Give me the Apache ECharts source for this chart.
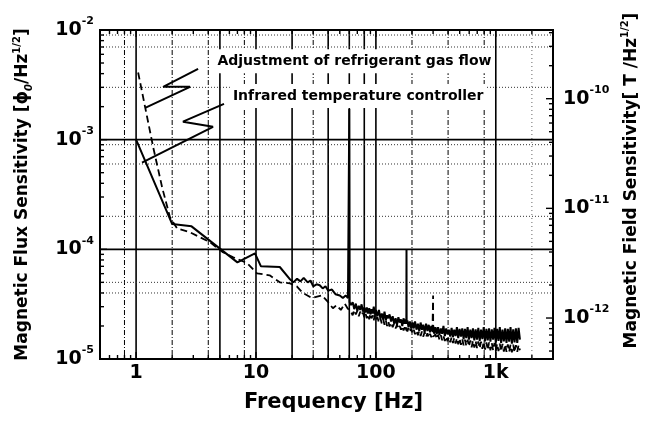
<!DOCTYPE html>
<html>
<head>
<meta charset="utf-8">
<script src="https://cdn.jsdelivr.net/npm/echarts@6.0.0/dist/echarts.min.js"></script>
<style>
html, body { margin: 0; padding: 0; background: #fff; }
#chart { width: 647px; height: 423px; }
</style>
</head>
<body>
<div id="chart"></div>
<script>
// flux noise spectra, frequency [Hz] / sensitivity [Phi0/Hz^1/2]
// below the 60 Hz line each trace has its own points
var infraredLowFreq = [1, 2.0, 2.9, 7.0, 9.8, 11, 15.8, 19, 20.5, 22, 23.5, 25, 27, 28.5, 30, 32, 34, 36, 38, 40, 43, 46, 50, 53, 56, 58.5, 59.6, 60, 60.4];
var infraredLowFlux = [1.0e-3, 1.7e-4, 1.62e-4, 7.6e-5, 9.2e-5, 7.0e-5, 6.9e-5, 5.4e-5, 5.0e-5, 5.4e-5, 5.1e-5, 5.5e-5, 5.0e-5, 5.2e-5, 4.6e-5, 4.8e-5, 4.7e-5, 4.4e-5, 4.6e-5, 4.2e-5, 4.3e-5, 3.9e-5, 3.8e-5, 3.6e-5, 3.8e-5, 3.6e-5, 3.5e-5, 1.9e-3, 3.3e-5];

var gasLowFreq = [1.04, 1.39, 1.65, 1.92, 2.2, 2.82, 4.14, 5.3, 6.4, 8.4, 10.2, 13, 15.8, 19.2, 21.9, 24.6, 29.2, 35.5, 40, 43.8, 47, 51, 55, 58, 60];
var gasLowFlux = [4.1e-3, 8.5e-4, 3.66e-4, 1.95e-4, 1.55e-4, 1.43e-4, 1.16e-4, 9.4e-5, 8.5e-5, 7.5e-5, 6.05e-5, 5.8e-5, 5.0e-5, 4.9e-5, 4.6e-5, 4.0e-5, 3.6e-5, 3.8e-5, 3.3e-5, 2.9e-5, 3.1e-5, 2.8e-5, 3.2e-5, 2.9e-5, 2.8e-5];

// noisy part above 60 Hz, shared frequency points
var noiseFreq = [
    62, 64, 66, 68, 70, 72, 74, 76, 78, 80,
    82, 84, 86, 88, 90, 92, 94, 96, 98, 100,
    103, 106, 109, 112, 115, 118, 121, 124, 127, 130,
    134, 138, 142, 146, 150, 154, 158, 162, 166, 170,
    174, 177, 179.5, 180, 180.5, 183, 187, 192, 197, 202,
    207, 212, 218, 224, 230, 236, 242, 248, 255, 262,
    269, 276, 283, 290, 296, 299.5, 300, 300.5, 306, 314,
    322, 330, 339, 348, 357, 366, 376, 386, 396, 406,
    417, 428, 439, 450, 462, 474, 486, 499, 512, 525,
    539, 553, 567, 582, 597, 613, 629, 645, 662, 679,
    697, 715, 734, 753, 773, 793, 814, 835, 857, 879,
    902, 926, 950, 975, 1000, 1026, 1053, 1080, 1108, 1137,
    1167, 1197, 1228, 1260, 1293, 1327, 1362, 1397, 1434, 1471,
    1510, 1549, 1590];
var infraredNoise = [
    3.1e-5, 3.3e-5, 2.85e-5, 3.2e-5, 2.75e-5, 3.05e-5, 2.8e-5, 3.15e-5, 2.7e-5, 2.95e-5,
    2.65e-5, 2.95e-5, 2.6e-5, 2.9e-5, 2.55e-5, 2.85e-5, 2.6e-5, 3.0e-5, 2.55e-5, 2.8e-5,
    2.45e-5, 2.8e-5, 2.35e-5, 2.6e-5, 2.3e-5, 2.7e-5, 2.25e-5, 2.5e-5, 2.35e-5, 2.55e-5,
    2.2e-5, 2.45e-5, 2.1e-5, 2.35e-5, 2.05e-5, 2.4e-5, 2.15e-5, 2.3e-5, 2.0e-5, 2.35e-5,
    2.1e-5, 2.3e-5, 2.2e-5, 1.0e-4, 2.1e-5, 2.25e-5, 1.95e-5, 2.2e-5, 1.9e-5, 2.15e-5,
    1.9e-5, 2.2e-5, 1.85e-5, 2.1e-5, 1.8e-5, 2.15e-5, 1.85e-5, 2.05e-5, 1.75e-5, 2.1e-5,
    1.8e-5, 2.05e-5, 1.75e-5, 2.0e-5, 1.8e-5, 1.95e-5, 1.75e-5, 2.0e-5, 1.7e-5, 1.95e-5,
    1.7e-5, 1.95e-5, 1.65e-5, 1.9e-5, 1.7e-5, 2.0e-5, 1.62e-5, 1.9e-5, 1.68e-5, 1.85e-5,
    1.6e-5, 1.92e-5, 1.58e-5, 1.85e-5, 1.62e-5, 1.95e-5, 1.55e-5, 1.88e-5, 1.6e-5, 1.9e-5,
    1.52e-5, 1.88e-5, 1.55e-5, 1.95e-5, 1.5e-5, 1.85e-5, 1.55e-5, 1.9e-5, 1.48e-5, 1.86e-5,
    1.5e-5, 1.92e-5, 1.46e-5, 1.85e-5, 1.52e-5, 1.95e-5, 1.45e-5, 1.88e-5, 1.48e-5, 1.9e-5,
    1.44e-5, 1.86e-5, 1.5e-5, 1.92e-5, 1.42e-5, 1.88e-5, 1.46e-5, 1.95e-5, 1.4e-5, 1.85e-5,
    1.45e-5, 1.9e-5, 1.4e-5, 1.88e-5, 1.44e-5, 1.95e-5, 1.38e-5, 1.86e-5, 1.42e-5, 1.9e-5,
    1.4e-5, 1.92e-5, 1.5e-5];
var gasNoise = [
    2.7e-5, 2.5e-5, 2.8e-5, 2.55e-5, 2.75e-5, 2.45e-5, 2.7e-5, 2.5e-5, 2.65e-5, 2.4e-5,
    2.6e-5, 2.35e-5, 2.55e-5, 2.3e-5, 2.6e-5, 2.35e-5, 2.5e-5, 2.25e-5, 2.55e-5, 2.3e-5,
    2.4e-5, 2.15e-5, 2.35e-5, 2.1e-5, 2.3e-5, 2.05e-5, 2.25e-5, 2.0e-5, 2.2e-5, 1.98e-5,
    2.15e-5, 1.95e-5, 2.1e-5, 1.9e-5, 2.05e-5, 1.88e-5, 2.0e-5, 1.85e-5, 2.0e-5, 1.82e-5,
    1.95e-5, 1.8e-5, 1.95e-5, 1.8e-5, 1.9e-5, 1.78e-5, 1.92e-5, 1.75e-5, 1.9e-5, 1.72e-5,
    1.85e-5, 1.68e-5, 1.82e-5, 1.65e-5, 1.8e-5, 1.62e-5, 1.78e-5, 1.6e-5, 1.75e-5, 1.58e-5,
    1.72e-5, 1.56e-5, 1.7e-5, 1.58e-5, 1.68e-5, 1.65e-5, 3.8e-5, 1.6e-5, 1.55e-5, 1.68e-5,
    1.52e-5, 1.66e-5, 1.5e-5, 1.65e-5, 1.48e-5, 1.62e-5, 1.46e-5, 1.6e-5, 1.45e-5, 1.58e-5,
    1.42e-5, 1.58e-5, 1.4e-5, 1.56e-5, 1.38e-5, 1.55e-5, 1.36e-5, 1.54e-5, 1.35e-5, 1.52e-5,
    1.33e-5, 1.5e-5, 1.32e-5, 1.5e-5, 1.3e-5, 1.48e-5, 1.28e-5, 1.47e-5, 1.27e-5, 1.46e-5,
    1.26e-5, 1.45e-5, 1.25e-5, 1.44e-5, 1.24e-5, 1.43e-5, 1.22e-5, 1.42e-5, 1.21e-5, 1.42e-5,
    1.2e-5, 1.4e-5, 1.2e-5, 1.4e-5, 1.19e-5, 1.38e-5, 1.18e-5, 1.38e-5, 1.17e-5, 1.37e-5,
    1.17e-5, 1.36e-5, 1.16e-5, 1.36e-5, 1.16e-5, 1.35e-5, 1.15e-5, 1.35e-5, 1.15e-5, 1.34e-5,
    1.16e-5, 1.34e-5, 1.2e-5];

// annotation leaders (zigzag), in data coords
var gasLeader = [[3.29, 4.42e-3], [1.68, 3.03e-3], [2.82, 3.03e-3], [1.19, 1.95e-3]];
var infraredLeader = [[5.41, 2.12e-3], [2.46, 1.46e-3], [4.38, 1.31e-3], [1.12, 6.18e-4]];

// tick labels / ticks
var freqLabels = { 1: '1', 10: '10', 100: '100', 1000: '1k' };
var freqTicks = [0.6, 0.7, 0.8, 0.9, 1, 2, 3, 4, 5, 6, 7, 8, 9, 10, 20, 30, 40, 50, 60, 70, 80, 90, 100,
    200, 300, 400, 500, 600, 700, 800, 900, 1000, 2000, 3000];
var fluxTicks = [2e-5, 3e-5, 4e-5, 5e-5, 6e-5, 7e-5, 8e-5, 9e-5, 1e-4, 2e-4, 3e-4, 4e-4, 5e-4, 6e-4, 7e-4, 8e-4, 9e-4, 1e-3,
    2e-3, 3e-3, 4e-3, 5e-3, 6e-3, 7e-3, 8e-3, 9e-3];
var fieldTicks = [5e-13, 6e-13, 7e-13, 8e-13, 9e-13, 1e-12, 2e-12, 3e-12, 4e-12, 5e-12, 6e-12, 7e-12, 8e-12, 9e-12, 1e-11,
    2e-11, 3e-11, 4e-11, 5e-11, 6e-11, 7e-11, 8e-11, 9e-11, 1e-10, 2e-10, 3e-10, 4e-10];

// grid lines as they appear in the scan
var vGridSolid = [1, 5, 10, 20, 40, 60, 80, 100, 1000];
var vGridDashed = [0.8, 2, 4, 8, 30, 200, 400, 800];
var vGridDotted = [2000];
var hGridSolid = [1e-3, 1e-4];
var hGridDotted = [9e-3, 7e-3, 3e-3, 9e-4, 6e-4, 2e-4, 5e-5, 4e-5];

var FLUX_MIN = 1e-5, FLUX_MAX = 1e-2;
var FIELD_PER_FLUX = 4.23e-8;   // T per Phi0

var FONT = 'DejaVu Sans';

function zip(xs, ys) {
    return xs.map(function (x, i) { return [x, ys[i]]; });
}

function isDecade(v) {
    var l = Math.log10(v);
    return Math.abs(l - Math.round(l)) < 1e-6;
}

function powLabel(v) {
    if (!isDecade(v)) return '';
    return '{b|10}{s|' + Math.round(Math.log10(v)) + '}';
}

var powRich = {
    b: { fontFamily: FONT, fontWeight: 'bold', fontSize: 19, lineHeight: 28, color: '#000' },
    s: { fontFamily: FONT, fontWeight: 'bold', fontSize: 11, lineHeight: 12, verticalAlign: 'top', color: '#000' }
};

function lineEl(x1, y1, x2, y2, style) {
    return { type: 'line', shape: { x1: x1, y1: y1, x2: x2, y2: y2 }, style: style };
}

function tickSeries(side, values, yIndex) {
    return {
        type: 'custom',
        xAxisIndex: 0,
        yAxisIndex: yIndex,
        silent: true,
        z: 5,
        data: values.map(function (v) {
            return side === 'x' ? [v, FLUX_MIN] : [side === 'left' ? 1 : 1000, v];
        }),
        renderItem: function (params, api) {
            var cs = params.coordSys;
            var v = api.value(side === 'x' ? 0 : 1);
            var len = isDecade(v) ? 7 : 4;
            var p = api.coord([api.value(0), api.value(1)]);
            var st = { stroke: '#000', lineWidth: 1.4 };
            var kids;
            if (side === 'x') {
                var b = cs.y + cs.height;
                kids = [lineEl(p[0], b, p[0], b - len, st), lineEl(p[0], cs.y, p[0], cs.y + len, st)];
            } else if (side === 'left') {
                kids = [lineEl(cs.x, p[1], cs.x + len, p[1], st)];
            } else {
                var r = cs.x + cs.width;
                kids = [lineEl(r, p[1], r - len, p[1], st)];
            }
            return { type: 'group', children: kids };
        }
    };
}

function gridSeries(dir, values, style) {
    return {
        type: 'custom',
        silent: true,
        z: 1,
        data: values.map(function (v) { return dir === 'v' ? [v, 1e-3] : [1, v]; }),
        renderItem: function (params, api) {
            var cs = params.coordSys;
            var p = api.coord([api.value(0), api.value(1)]);
            if (dir === 'v') return lineEl(p[0], cs.y, p[0], cs.y + cs.height, style);
            return lineEl(cs.x, p[1], cs.x + cs.width, p[1], style);
        }
    };
}

// annotation text with an opaque box, like the pasted labels of the original
function noteSeries(at, text) {
    return {
        type: 'custom',
        silent: true,
        z: 6,
        data: [at],
        renderItem: function (params, api) {
            var p = api.coord([api.value(0), api.value(1)]);
            return {
                type: 'text', x: p[0], y: p[1],
                style: {
                    text: text, fill: '#000', align: 'left', verticalAlign: 'middle',
                    font: 'bold 14px "' + FONT + '"',
                    backgroundColor: '#fff', padding: [5, 3, 5, 3]
                }
            };
        }
    };
}

function traceLine(name, data, z, lineStyle) {
    return {
        name: name, type: 'line', z: z, symbol: 'none', silent: true,
        lineStyle: lineStyle, data: data
    };
}

var chart = echarts.init(document.getElementById('chart'), null, { renderer: 'canvas' });

chart.setOption({
    animation: false,
    backgroundColor: '#fff',
    grid: {
        left: 100, right: 94, top: 30, bottom: 64,
        show: true, borderColor: '#000', borderWidth: 2, backgroundColor: 'transparent',
        outerBoundsMode: 'none'
    },
    xAxis: {
        type: 'log', min: 0.5, max: 3000,
        axisLine: { show: false }, axisTick: { show: false }, splitLine: { show: false },
        axisLabel: {
            interval: 0, margin: 5, color: '#000', fontFamily: FONT, fontWeight: 'bold', fontSize: 19,
            formatter: function (v) { return isDecade(v) && freqLabels[Math.round(v)] ? freqLabels[Math.round(v)] : ''; }
        },
        name: 'Frequency [Hz]', nameLocation: 'middle', nameGap: 33,
        nameTextStyle: { color: '#000', fontFamily: FONT, fontWeight: 'bold', fontSize: 21, padding: [0, 0, 0, 14] }
    },
    yAxis: [{
        type: 'log', min: FLUX_MIN, max: FLUX_MAX,
        axisLine: { show: false }, axisTick: { show: false }, splitLine: { show: false },
        axisLabel: { interval: 0, margin: 6, formatter: powLabel, rich: powRich },
        name: '{t|Magnetic Flux Sensitivity [ϕ}{sub|0}{t|/Hz}{sup|1/2}{t|]}',
        nameLocation: 'middle', nameGap: 66, nameRotate: 90,
        nameTextStyle: {
            rich: {
                t: { fontFamily: FONT, fontWeight: 'bold', fontSize: 17, lineHeight: 22, color: '#000' },
                sub: { fontFamily: FONT, fontWeight: 'bold', fontStyle: 'italic', fontSize: 10, lineHeight: 12, verticalAlign: 'bottom', color: '#000' },
                sup: { fontFamily: FONT, fontWeight: 'bold', fontSize: 10, lineHeight: 12, verticalAlign: 'top', color: '#000' }
            }
        }
    }, {
        type: 'log', min: FLUX_MIN * FIELD_PER_FLUX, max: FLUX_MAX * FIELD_PER_FLUX, position: 'right',
        axisLine: { show: false }, axisTick: { show: false }, splitLine: { show: false },
        axisLabel: { interval: 0, margin: 10, formatter: powLabel, rich: powRich },
        name: '{t|Magnetic Field Sensitivity[ T /Hz}{sup|1/2}{t|]}',
        nameLocation: 'middle', nameGap: 66, nameRotate: 90,
        nameTextStyle: {
            padding: [0, 0, 0, 28],
            rich: {
                t: { fontFamily: FONT, fontWeight: 'bold', fontSize: 17, lineHeight: 22, color: '#000' },
                sup: { fontFamily: FONT, fontWeight: 'bold', fontSize: 10, lineHeight: 12, verticalAlign: 'top', color: '#000' }
            }
        }
    }],
    series: [
        gridSeries('v', vGridSolid, { stroke: '#000', lineWidth: 1.6 }),
        gridSeries('v', vGridDashed, { stroke: '#000', lineWidth: 1, lineDash: [5, 2, 1, 2] }),
        gridSeries('v', vGridDotted, { stroke: '#666', lineWidth: 1, lineDash: [1, 3] }),
        gridSeries('h', hGridSolid, { stroke: '#000', lineWidth: 1.6 }),
        gridSeries('h', hGridDotted, { stroke: '#333', lineWidth: 1, lineDash: [1, 2] }),
        tickSeries('x', freqTicks, 0),
        tickSeries('left', fluxTicks, 0),
        tickSeries('right', fieldTicks, 1),
        traceLine('Adjustment of refrigerant gas flow',
            zip(gasLowFreq, gasLowFlux).concat(zip(noiseFreq, gasNoise)), 3,
            { color: '#000', width: 1.8, type: [7, 4] }),
        traceLine('Infrared temperature controller',
            zip(infraredLowFreq, infraredLowFlux).concat(zip(noiseFreq, infraredNoise)), 4,
            { color: '#000', width: 2 }),
        traceLine('', gasLeader, 4, { color: '#000', width: 2 }),
        traceLine('', infraredLeader, 4, { color: '#000', width: 2 }),
        noteSeries([4.5, 5.2e-3], 'Adjustment of refrigerant gas flow'),
        noteSeries([6.06, 2.5e-3], 'Infrared temperature controller')
    ]
});
</script>
</body>
</html>
